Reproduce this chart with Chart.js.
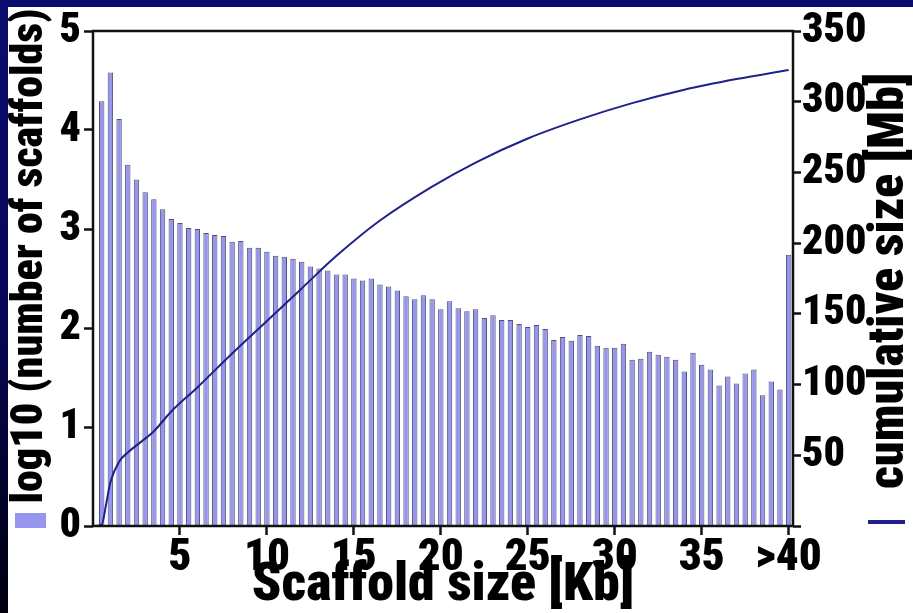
<!DOCTYPE html>
<html>
<head>
<meta charset="utf-8">
<script src="https://cdn.jsdelivr.net/npm/chart.js@4.4.1/dist/chart.umd.min.js"></script>
<style>
  html, body { margin: 0; padding: 0; }
  body {
    width: 913px; height: 613px; overflow: hidden; position: relative;
    background: linear-gradient(to bottom, #0c0c6e 0%, #07075a 50%, #00000e 100%);
  }
  #wrap { position: absolute; left: 8px; top: 7px; width: 905px; height: 606px; background: #fff; }
</style>
</head>
<body>
<div id="wrap"><canvas id="chart" width="905" height="606"></canvas></div>
<script>
// scaffold size bins in Kb (last bin = ">40")
const binKb = [
  0.5, 1, 1.5, 2, 2.5, 3, 3.5, 4, 4.5, 5,
  5.5, 6, 6.5, 7, 7.5, 8, 8.5, 9, 9.5, 10,
  10.5, 11, 11.5, 12, 12.5, 13, 13.5, 14, 14.5, 15,
  15.5, 16, 16.5, 17, 17.5, 18, 18.5, 19, 19.5, 20,
  20.5, 21, 21.5, 22, 22.5, 23, 23.5, 24, 24.5, 25,
  25.5, 26, 26.5, 27, 27.5, 28, 28.5, 29, 29.5, 30,
  30.5, 31, 31.5, 32, 32.5, 33, 33.5, 34, 34.5, 35,
  35.5, 36, 36.5, 37, 37.5, 38, 38.5, 39, 39.5, 40
];

// log10 (number of scaffolds) per bin
const scaffoldsLog10 = [
  4.29, 4.58, 4.11, 3.65, 3.50, 3.37, 3.30, 3.20, 3.10, 3.06,
  3.01, 3.00, 2.96, 2.94, 2.93, 2.87, 2.88, 2.81, 2.81, 2.77,
  2.73, 2.72, 2.70, 2.67, 2.62, 2.60, 2.58, 2.54, 2.54, 2.50,
  2.48, 2.50, 2.44, 2.42, 2.38, 2.32, 2.29, 2.33, 2.29, 2.19,
  2.27, 2.20, 2.17, 2.19, 2.10, 2.13, 2.08, 2.08, 2.04, 2.01,
  2.03, 1.99, 1.88, 1.91, 1.87, 1.93, 1.92, 1.82, 1.80, 1.80,
  1.84, 1.68, 1.69, 1.76, 1.73, 1.71, 1.68, 1.56, 1.75, 1.63,
  1.58, 1.42, 1.51, 1.44, 1.54, 1.58, 1.32, 1.46, 1.38, 2.74
];

// cumulative size [Mb]
const cumKb = [0, 0.5, 0.75, 1, 1.5, 2, 2.5, 3.5, 4.5, 6, 8, 10, 12, 14, 16.5, 19.5, 22, 25, 28, 31, 34, 37, 40];
const cumMb = [0, 1, 15, 31, 45.5, 52, 57, 67, 81, 98, 122, 145, 168, 191, 216, 240, 257, 274, 287.5, 299, 308.5, 316, 322.5];

const xTickValues = [5, 10, 15, 20, 25, 30, 35, 40];
const xTickLabels = ['5', '10', '15', '20', '25', '30', '35', '>40'];

const FONT = "Roboto, 'Open Sans', sans-serif";
const WEIGHT = '900 condensed';
const BAR_FILL = 'rgb(150, 150, 238)';
const LINE_COL = 'rgb(32, 32, 140)';

// box round the plot, axis titles and their little keys
const framePlugin = {
    id: 'frame',
    afterDraw(chart) {
        const { ctx, chartArea: a } = chart;
        ctx.save();
        ctx.strokeStyle = '#111';
        ctx.lineWidth = 2.5;
        ctx.strokeRect(a.left, a.top, a.right - a.left, a.bottom - a.top);

        ctx.fillStyle = '#000';
        ctx.textAlign = 'center';
        ctx.textBaseline = 'middle';

        ctx.save();
        ctx.font = WEIGHT + ' 44px ' + FONT;
        ctx.translate(23, 249);
        ctx.rotate(-Math.PI / 2);
        ctx.fillText('log10 (number of scaffolds)', 0, 0);
        ctx.restore();

        ctx.save();
        ctx.font = WEIGHT + ' 50px ' + FONT;
        ctx.translate(882, 274);
        ctx.rotate(-Math.PI / 2);
        ctx.fillText('cumulative size [Mb]', 0, 0);
        ctx.restore();

        ctx.fillStyle = BAR_FILL;
        ctx.fillRect(7, 506, 31, 15);
        ctx.fillStyle = LINE_COL;
        ctx.fillRect(860, 513, 37, 4);
        ctx.restore();
    }
};

const tickFont = { family: FONT, size: 42, weight: WEIGHT, lineHeight: 1 };

const ctx = document.getElementById('chart').getContext('2d');
const chart = new Chart(ctx, {
    data: {
        labels: binKb,
        datasets: [
            {
                type: 'line',
                label: 'cumulative size [Mb]',
                data: cumKb.map((k, i) => ({ x: k, y: cumMb[i] })),
                yAxisID: 'y2',
                borderColor: LINE_COL,
                borderWidth: 2,
                pointRadius: 0,
                cubicInterpolationMode: 'monotone',
                order: 0
            },
            {
                type: 'bar',
                label: 'log10 (number of scaffolds)',
                data: scaffoldsLog10,
                yAxisID: 'y',
                backgroundColor: BAR_FILL,
                borderColor: 'rgb(80, 80, 118)',
                borderWidth: 1,
                borderSkipped: 'bottom',
                categoryPercentage: 1,
                barPercentage: 0.62,
                order: 1
            }
        ]
    },
    options: {
        responsive: false,
        animation: false,
        layout: { padding: { top: 22, left: 0, right: 0, bottom: 0 } },
        plugins: { legend: { display: false }, tooltip: { enabled: false } },
        scales: {
            x: {
                type: 'linear',
                min: 0,
                max: 40.25,
                offset: false,
                afterBuildTicks: (s) => { s.ticks = xTickValues.map(v => ({ value: v })); },
                afterFit: (s) => { s.height = 87; },
                ticks: {
                    autoSkip: false,
                    maxRotation: 0,
                    padding: 1,
                    color: '#000',
                    font: { family: FONT, size: 45, weight: WEIGHT, lineHeight: 1 },
                    callback: (v) => xTickLabels[xTickValues.indexOf(v)]
                },
                grid: { offset: false, drawOnChartArea: false, tickLength: 9, tickColor: '#111', tickWidth: 2.5 },
                border: { display: false },
                title: {
                    display: true,
                    text: 'Scaffold size [Kb]',
                    color: '#000',
                    font: { family: FONT, size: 54, weight: WEIGHT, lineHeight: 1 },
                    padding: { top: 0, bottom: 0 }
                }
            },
            y: {
                position: 'left',
                min: 0,
                max: 5,
                afterFit: (s) => { s.width = 85; },
                ticks: { stepSize: 1, padding: 3, color: '#000', font: tickFont },
                grid: { drawOnChartArea: false, tickLength: 9, tickColor: '#111', tickWidth: 2.5 },
                border: { display: false }
            },
            y2: {
                position: 'right',
                min: 0,
                max: 350,
                afterFit: (s) => { s.width = 120; },
                ticks: {
                    stepSize: 50,
                    padding: 1,
                    color: '#000',
                    font: tickFont,
                    callback: (v) => (v === 0 ? '' : v)
                },
                grid: { drawOnChartArea: false, tickLength: 8, tickColor: '#111', tickWidth: 2.5 },
                border: { display: false }
            }
        }
    },
    plugins: [framePlugin]
});
</script>
</body>
</html>
